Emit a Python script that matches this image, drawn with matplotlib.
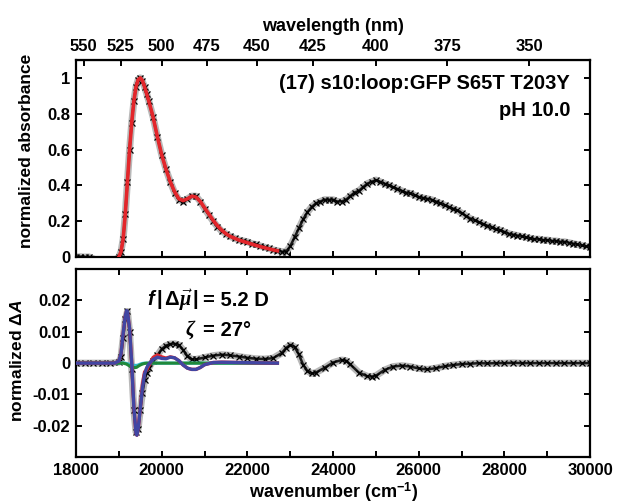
import numpy as np
import matplotlib
matplotlib.use("Agg")
import matplotlib.pyplot as plt
import matplotlib.patheffects as pe
from matplotlib.ticker import MultipleLocator, FixedLocator, FixedFormatter

plt.rcParams['font.family'] = ['Liberation Sans', 'DejaVu Sans']
plt.rcParams['font.weight'] = 'bold'
plt.rcParams['axes.labelweight'] = 'bold'
plt.rcParams['axes.unicode_minus'] = False
plt.rcParams['mathtext.fontset'] = 'custom'
plt.rcParams['mathtext.rm'] = 'Liberation Sans:bold'
plt.rcParams['mathtext.it'] = 'Liberation Serif:italic'
plt.rcParams['mathtext.bf'] = 'Liberation Sans:bold'
plt.rcParams['mathtext.bfit'] = 'Liberation Sans:bold:italic'

# ---- absorbance spectrum (wavenumber in cm-1, normalized absorbance)
abs_wn = [18000, 18100, 18200, 18300, 18500, 18700, 18900, 19000, 19050,
          19100, 19150, 19200, 19250, 19300, 19350, 19400, 19450, 19500,
          19550, 19600, 19650, 19700, 19800, 19900, 20000, 20100, 20200,
          20300, 20400, 20500, 20600, 20700, 20800, 20900, 21000, 21100,
          21200, 21300, 21400, 21500, 21600, 21700, 21800, 21900, 22000,
          22100, 22200, 22300, 22400, 22500, 22600, 22700, 22800, 22900,
          23000, 23100, 23200, 23300, 23400, 23500, 23600, 23700, 23800,
          23900, 24000, 24100, 24200, 24300, 24400, 24500, 24600, 24700,
          24800, 24900, 25000, 25100, 25200, 25300, 25400, 25500, 25600,
          25700, 25800, 25900, 26000, 26100, 26200, 26300, 26400, 26500,
          26600, 26700, 26800, 26900, 27000, 27100, 27200, 27300, 27400,
          27500, 27600, 27700, 27800, 27900, 28000, 28100, 28200, 28300,
          28400, 28500, 28600, 28700, 28800, 28900, 29000, 29100, 29200,
          29300, 29400, 29500, 29600, 29700, 29800, 29900, 30000]
abs_val = [0.0, 0.002, 0.0, 0.001, -0.02, -0.02, -0.02, 0.0, 0.03,
           0.10, 0.24, 0.42, 0.60, 0.75, 0.87, 0.95, 0.99, 1.0,
           0.98, 0.95, 0.91, 0.87, 0.78, 0.67, 0.57, 0.49, 0.42,
           0.36, 0.32, 0.31, 0.325, 0.34, 0.34, 0.31, 0.27, 0.235,
           0.20, 0.17, 0.145, 0.13, 0.115, 0.105, 0.095, 0.09, 0.085,
           0.075, 0.07, 0.062, 0.055, 0.048, 0.04, 0.035, 0.03, 0.03,
           0.06, 0.11, 0.16, 0.21, 0.25, 0.28, 0.30, 0.31, 0.32,
           0.32, 0.32, 0.31, 0.31, 0.32, 0.34, 0.36, 0.37, 0.39,
           0.41, 0.42, 0.43, 0.42, 0.41, 0.40, 0.39, 0.38, 0.37,
           0.36, 0.355, 0.345, 0.335, 0.33, 0.325, 0.32, 0.31, 0.30,
           0.29, 0.28, 0.27, 0.26, 0.245, 0.23, 0.215, 0.205, 0.195,
           0.185, 0.175, 0.165, 0.155, 0.15, 0.14, 0.13, 0.125, 0.12,
           0.115, 0.11, 0.105, 0.10, 0.10, 0.095, 0.095, 0.09, 0.09,
           0.085, 0.085, 0.08, 0.075, 0.07, 0.065, 0.06, 0.055]

fit_wn = [19000, 19050, 19100, 19150, 19200, 19250, 19300, 19350, 19400,
          19450, 19500, 19550, 19600, 19650, 19700, 19800, 19900, 20000,
          20100, 20200, 20300, 20400, 20500, 20600, 20700, 20800, 20900,
          21000, 21100, 21200, 21300, 21400, 21500, 21600, 21800, 22000,
          22200, 22400, 22600, 22700]
fit_val = [0.0, 0.03, 0.10, 0.24, 0.42, 0.60, 0.75, 0.87, 0.95,
           0.99, 1.0, 0.985, 0.95, 0.91, 0.87, 0.78, 0.67, 0.57,
           0.49, 0.42, 0.365, 0.325, 0.315, 0.325, 0.34, 0.335, 0.31,
           0.275, 0.24, 0.205, 0.175, 0.15, 0.13, 0.115, 0.095, 0.08,
           0.065, 0.052, 0.04, 0.035]

# ---- Stark spectrum (normalized dA)
da_wn = [18000, 18200, 18400, 18600, 18800, 19000, 19050, 19100, 19150,
         19200, 19250, 19300, 19350, 19400, 19450, 19500, 19550, 19600,
         19650, 19700, 19800, 19900, 20000, 20100, 20200, 20300, 20400,
         20500, 20600, 20700, 20800, 21000, 21200, 21400, 21600, 21800,
         22000, 22200, 22400, 22600, 22800, 22900, 23000, 23100, 23200,
         23300, 23400, 23500, 23600, 23800, 24000, 24200, 24300, 24400,
         24600, 24800, 24900, 25000, 25200, 25400, 25600, 25800, 26000,
         26200, 26400, 26600, 26800, 27000, 27200, 27400, 27600, 27800,
         28000, 28200, 28400, 28600, 28800, 29000, 29200, 29400, 29600,
         29800, 30000]
da_val = [0.0, 0.0, 0.0, 0.0, 0.0, 0.0003, 0.002, 0.008, 0.014,
          0.0165, 0.010, -0.002, -0.015, -0.022, -0.021, -0.015, -0.0095, -0.0055,
          -0.003, -0.0015, 0.0008, 0.0025, 0.0045, 0.0056, 0.0061, 0.0062, 0.0058,
          0.0042, 0.0022, 0.0012, 0.0012, 0.0018, 0.0024, 0.0027, 0.0025, 0.0021,
          0.0017, 0.0014, 0.0013, 0.0016, 0.0032, 0.0048, 0.0058, 0.0052, 0.0028,
          -0.0005, -0.0025, -0.0033, -0.0030, -0.0015, 0.0002, 0.0010, 0.0008, -0.0004,
          -0.0030, -0.0042, -0.0043, -0.0040, -0.0022, -0.0011, -0.0008, -0.0011, -0.0017,
          -0.0020, -0.0016, -0.0010, -0.0006, -0.0003, -0.0002, 0.0, -0.0001, 0.0,
          0.0, 0.0001, 0.0, 0.0, 0.0, 0.0, 0.0, 0.0, 0.0,
          0.0, 0.0]

sfit_wn = [18000, 18500, 18900, 19000, 19050, 19100, 19150, 19180, 19200,
           19250, 19300, 19350, 19400, 19420, 19450, 19500, 19550, 19600,
           19650, 19700, 19800, 19900, 20000, 20100, 20200, 20300, 20400,
           20500, 20600, 20700, 20800, 20900, 21000, 21200, 21400, 21800,
           22200, 22700]
blue_val = [0.0, 0.0, 0.0, 0.0007, 0.003, 0.0095, 0.015, 0.0168, 0.0165,
            0.011, 0.0, -0.014, -0.0225, -0.023, -0.021, -0.0145, -0.008, -0.0035,
            -0.0015, -0.0003, 0.0012, 0.0019, 0.0015, 0.0014, 0.0019, 0.0017, 0.0008,
            -0.0006, -0.0016, -0.002, -0.002, -0.0014, -0.0005, 0.0002, 0.0003, 0.0002,
            0.0001, 0.0]
red_val = [0.0, 0.0, 0.0, 0.0007, 0.003, 0.0095, 0.015, 0.0166, 0.0163,
           0.011, 0.0, -0.014, -0.0225, -0.023, -0.021, -0.0145, -0.007, -0.0028,
           -0.0022, -0.0008, 0.0018, 0.0026, 0.0020, 0.0016, 0.0020, 0.0017, 0.0008,
           -0.0006, -0.0016, -0.002, -0.002, -0.0014, -0.0005, 0.0002, 0.0003, 0.0002,
           0.0001, 0.0]
green_val = [0.0, 0.0, 0.0, 0.0, 0.0, 0.0, -0.0002, -0.0003, -0.0005,
             -0.0009, -0.0012, -0.0014, -0.0014, -0.0013, -0.001, -0.0006, -0.0003, -0.0001,
             0.0, 0.0, 0.0, 0.0, 0.0, 0.0, 0.0, 0.0, 0.0,
             0.0, 0.0, 0.0, 0.0, 0.0, 0.0, 0.0, 0.0, 0.0,
             0.0, 0.0]
cyan_val = [0.0, 0.0, 0.0, 0.0, 0.0001, 0.0001, 0.0, -0.0001, -0.0002,
            -0.0004, -0.0006, -0.0007, -0.0007, -0.0007, -0.0006, -0.0003, -0.0001, 0.0,
            0.0, 0.0, 0.0, 0.0, 0.0, 0.0, 0.0, 0.0, 0.0,
            0.0, 0.0, 0.0, 0.0, 0.0, 0.0, 0.0, 0.0, 0.0,
            0.0, 0.0]

wl_ticks = [550, 525, 500, 475, 450, 425, 400, 375, 350]
abs_yticks = [0, 0.2, 0.4, 0.6, 0.8, 1.0]
abs_ylabels = ['0', '0.2', '0.4', '0.6', '0.8', '1']
da_yticks = [-0.02, -0.01, 0, 0.01, 0.02]
da_ylabels = ['-0.02', '-0.01', '0', '0.01', '0.02']

halo = [pe.Stroke(linewidth=5, foreground='0.72'), pe.Normal()]


def plotData(ax, x, y):
    # black x markers with a grey halo, like the scanned raw data
    ax.plot(x, y, '-', color='0.1', lw=1.8, path_effects=halo, zorder=2)
    ax.plot(x, y, 'x', color='k', ms=4, mew=0.9, zorder=2.1)


def styleAxes(ax):
    for s in ax.spines.values():
        s.set_linewidth(1.6)
    ax.tick_params(direction='in', length=4, width=1.4, labelsize=12,
                   right=True, pad=4)
    ax.tick_params(which='minor', direction='in', length=4, width=1.4,
                   right=True)
    ax.set_xlim(18000, 30000)


fig = plt.figure(figsize=(6.18, 5.04), dpi=100)
ax1 = fig.add_axes([0.123, 0.490, 0.832, 0.391])
ax2 = fig.add_axes([0.123, 0.093, 0.832, 0.373])

# ---- top panel
styleAxes(ax1)
plotData(ax1, abs_wn, abs_val)
ax1.plot(fit_wn, fit_val, color='#e3262b', lw=2.6, zorder=3)
ax1.set_ylim(0, 1.1)
ax1.xaxis.set_major_locator(MultipleLocator(1000))
ax1.tick_params(labelbottom=False, top=False)
ax1.yaxis.set_major_locator(FixedLocator(abs_yticks))
ax1.yaxis.set_major_formatter(FixedFormatter(abs_ylabels))
ax1.set_ylabel('normalized absorbance', fontsize=12.5)
ax1.yaxis.set_label_coords(-0.082, 0.54)

sec = ax1.secondary_xaxis('top', functions=(lambda x: 1e7 / np.clip(x, 1, None),
                                             lambda x: 1e7 / np.clip(x, 1, None)))
sec.set_xticks(wl_ticks)
sec.set_xticklabels([str(w) for w in wl_ticks])
sec.tick_params(direction='in', length=4, width=1.4, labelsize=12, pad=4)
sec.set_xlabel('wavelength (nm)', fontsize=13, labelpad=6)

ax1.text(0.961, 0.883, '(17) s10:loop:GFP S65T T203Y', transform=ax1.transAxes,
         ha='right', va='center', fontsize=14.5)
ax1.text(0.961, 0.746, 'pH 10.0', transform=ax1.transAxes,
         ha='right', va='center', fontsize=14.5)

# ---- bottom panel
styleAxes(ax2)
plotData(ax2, da_wn, da_val)
ax2.plot(sfit_wn, cyan_val, color='#2fb9c9', lw=2.2, zorder=3)
ax2.plot(sfit_wn, green_val, color='#20883a', lw=2.2, zorder=3.1)
ax2.plot(sfit_wn, red_val, color='#e3262b', lw=2.4, zorder=3.2)
ax2.plot(sfit_wn, blue_val, color='#4146a3', lw=2.4, zorder=3.3)
ax2.set_ylim(-0.03, 0.03)
ax2.xaxis.set_major_locator(MultipleLocator(2000))
ax2.xaxis.set_minor_locator(MultipleLocator(1000))
ax2.tick_params(top=True)
ax2.tick_params(which='minor', top=True)
ax2.yaxis.set_major_locator(FixedLocator(da_yticks))
ax2.yaxis.set_major_formatter(FixedFormatter(da_ylabels))
ax2.set_ylabel(r'normalized $\Delta\mathbfit{A}$', fontsize=12.5)
ax2.yaxis.set_label_coords(-0.100, 0.51)
ax2.set_xlabel(r'wavenumber (cm$^{\mathbf{-1}}$)', fontsize=13, labelpad=2)

ax2.text(0.240, 0.835, r'$\mathbfit{f}\,|\,\Delta\vec{\mu}\,|$', transform=ax2.transAxes,
         ha='right', va='center', fontsize=14.5)
ax2.text(0.2475, 0.835, '= 5.2 D', transform=ax2.transAxes,
         ha='left', va='center', fontsize=14.5)
ax2.text(0.235, 0.676, r'$\zeta$', transform=ax2.transAxes,
         ha='right', va='center', fontsize=14.5)
ax2.text(0.2475, 0.676, '= 27°', transform=ax2.transAxes,
         ha='left', va='center', fontsize=14.5)

fig.savefig('out.png', dpi=100)
